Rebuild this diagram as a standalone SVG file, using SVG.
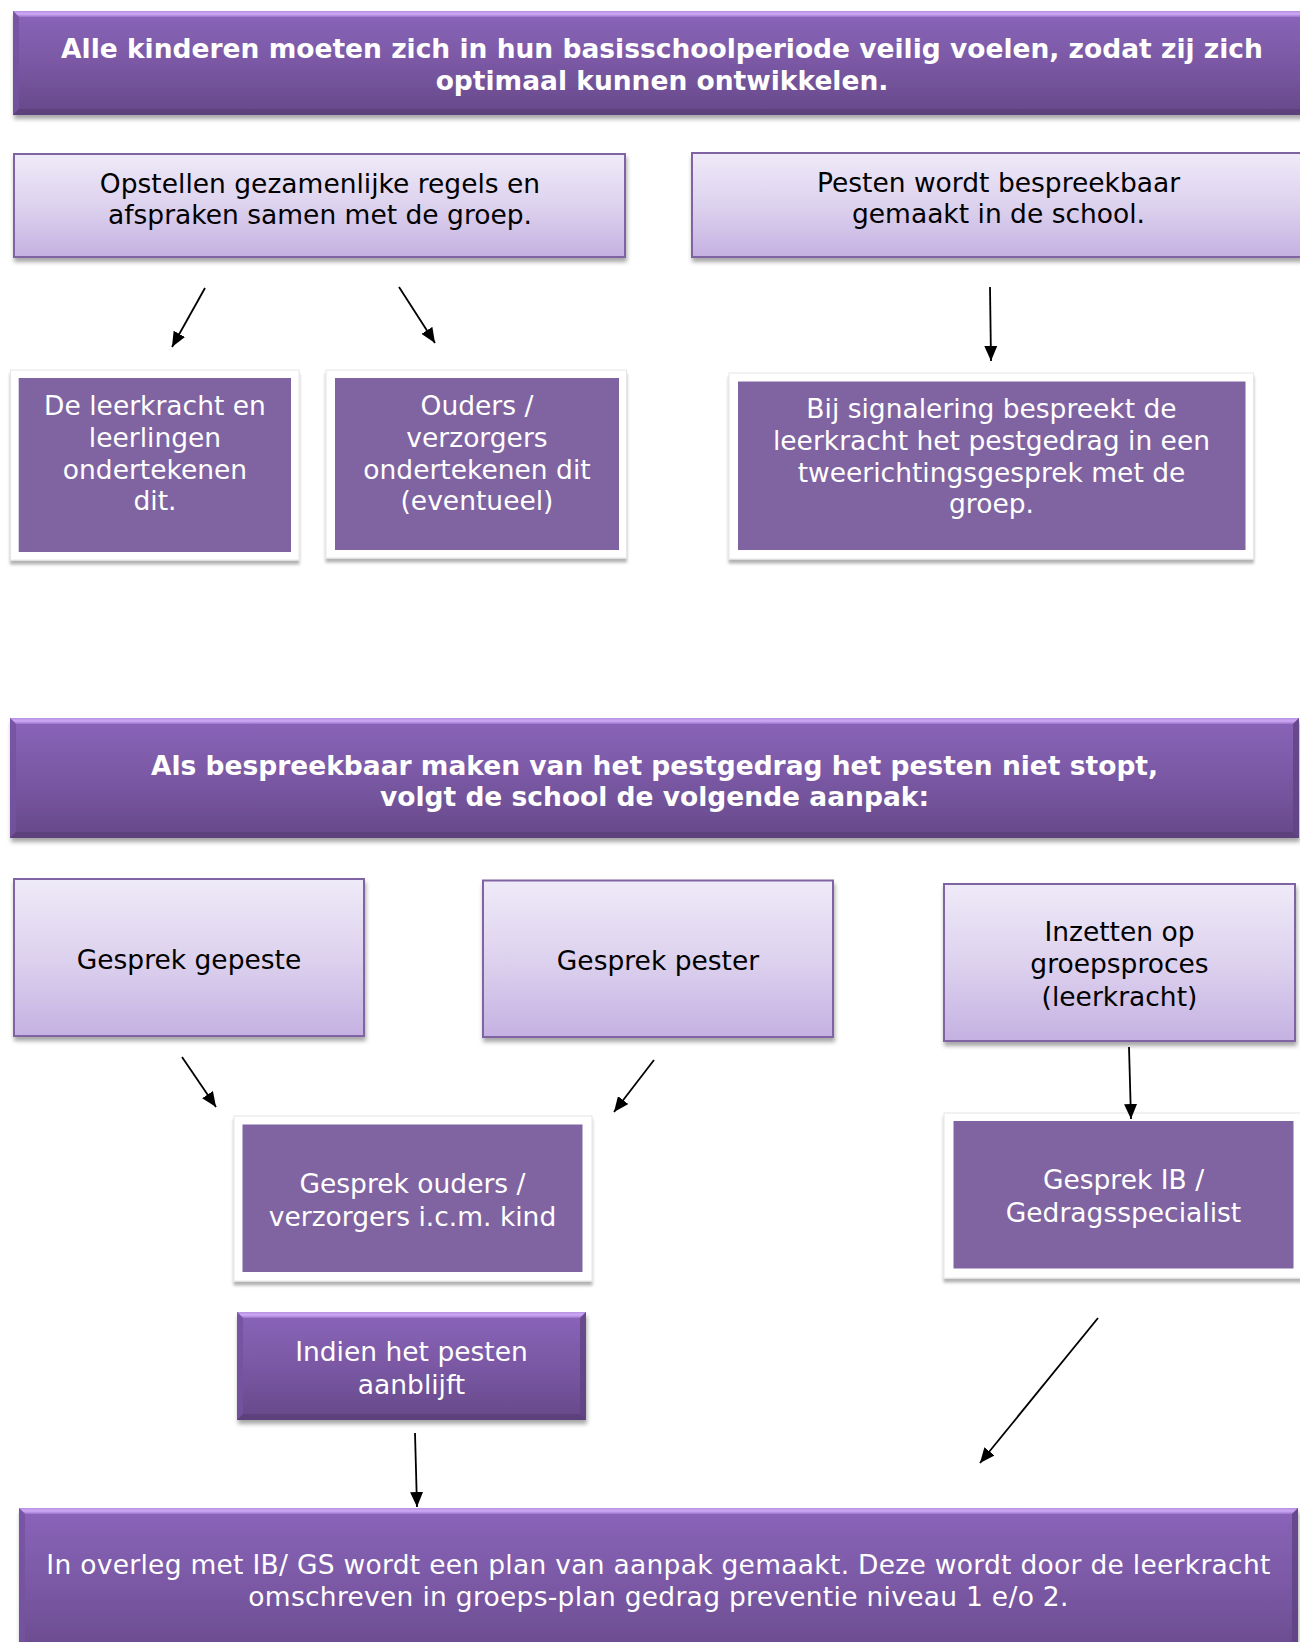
<svg xmlns="http://www.w3.org/2000/svg" width="1300" height="1642" viewBox="0 0 1300 1642">
<style>
  .tb { font-family: "DejaVu Sans", Verdana, sans-serif; font-size: 26.5px; font-weight: bold; fill: #ffffff; text-anchor: middle; }
  .tw { font-family: "DejaVu Sans", Verdana, sans-serif; font-size: 26.5px; fill: #ffffff; text-anchor: middle; }
  .tk { font-family: "DejaVu Sans", Verdana, sans-serif; font-size: 26.5px; fill: #000000; text-anchor: middle; }
  .wide { letter-spacing: 0.28px; }
  .light { fill: url(#lightGrad); stroke: #8064a2; stroke-width: 2; filter: url(#shadow); }
  .frame { fill: #ffffff; stroke: #e6e6e6; stroke-width: 1; filter: url(#shadowFrame); }
  .inner { fill: #8064a2; }
  .body { fill: url(#bannerGrad); filter: url(#shadow); }
  .bevTop { fill: url(#bevTopGrad); }
  .bevLeft { fill: #7452a0; opacity: 0.8; }
  .bevBottom { fill: #5a3f7a; opacity: 0.85; }
  .bevRight { fill: #5f4482; opacity: 0.8; }
  .conn { stroke: #000000; stroke-width: 1.8; fill: none; marker-end: url(#arrow); }
</style>
<defs>
  <linearGradient id="lightGrad" x1="0" y1="0" x2="0" y2="1">
    <stop offset="0" stop-color="#efeaf8"/>
    <stop offset="0.5" stop-color="#ddd2ee"/>
    <stop offset="1" stop-color="#c5b1e2"/>
  </linearGradient>
  <linearGradient id="bannerGrad" x1="0" y1="0" x2="0" y2="1">
    <stop offset="0" stop-color="#8a64b9"/>
    <stop offset="0.5" stop-color="#7a58a4"/>
    <stop offset="1" stop-color="#664989"/>
  </linearGradient>
  <linearGradient id="bevTopGrad" x1="0" y1="0" x2="0" y2="1">
    <stop offset="0" stop-color="#b690e2"/>
    <stop offset="0.5" stop-color="#cfa9f7"/>
    <stop offset="1" stop-color="#9b74cb"/>
  </linearGradient>
  <filter id="shadow" x="-5%" y="-10%" width="110%" height="130%">
    <feDropShadow dx="1" dy="4" stdDeviation="2" flood-color="#000000" flood-opacity="0.35"/>
  </filter>
  <filter id="shadowFrame" x="-5%" y="-10%" width="110%" height="130%">
    <feDropShadow dx="0" dy="4" stdDeviation="1.5" flood-color="#000000" flood-opacity="0.3"/>
  </filter>
  <marker id="arrow" viewBox="0 0 15 13" refX="15" refY="6.5" markerWidth="15" markerHeight="13" markerUnits="userSpaceOnUse" orient="auto">
    <path d="M0,0 L15,6.5 L0,13 z" fill="#000000"/>
  </marker>
</defs>

<g id="node-top-banner">
  <rect class="body" x="13" y="11" width="1300" height="104"/>
  <polygon class="bevTop" points="13,11 1313,11 1307,17 19,17"/>
  <polygon class="bevLeft" points="13,11 19,17 19,109 13,115"/>
  <polygon class="bevBottom" points="13,115 19,109 1307,109 1313,115"/>
  <text class="tb" x="662" y="57.5">Alle kinderen moeten zich in hun basisschoolperiode veilig voelen, zodat zij zich</text>
  <text class="tb" x="662" y="90">optimaal kunnen ontwikkelen.</text>
</g>

<g id="node-opstellen">
  <rect class="light" x="14" y="154" width="611" height="103"/>
  <text class="tk" x="320" y="192.5">Opstellen gezamenlijke regels en</text>
  <text class="tk" x="320" y="224">afspraken samen met de groep.</text>
</g>

<g id="node-pesten-bespreekbaar">
  <rect class="light" x="692" y="153" width="613" height="104"/>
  <text class="tk" x="998.5" y="191.5">Pesten wordt bespreekbaar</text>
  <text class="tk" x="998.5" y="223">gemaakt in de school.</text>
</g>

<g id="node-leerkracht-leerlingen">
  <rect class="frame" x="10.5" y="370" width="288.5" height="190"/>
  <rect class="inner" x="18.7" y="378" width="272.3" height="174"/>
  <text class="tw" x="155" y="415">De leerkracht en</text>
  <text class="tw" x="155" y="447">leerlingen</text>
  <text class="tw" x="155" y="478.5">ondertekenen</text>
  <text class="tw" x="155" y="510">dit.</text>
</g>

<g id="node-ouders">
  <rect class="frame" x="326" y="370" width="300.5" height="188"/>
  <rect class="inner" x="335" y="378" width="284" height="172"/>
  <text class="tw" x="477" y="415">Ouders /</text>
  <text class="tw" x="477" y="447">verzorgers</text>
  <text class="tw" x="477" y="478.5">ondertekenen dit</text>
  <text class="tw" x="477" y="510">(eventueel)</text>
</g>

<g id="node-signalering">
  <rect class="frame" x="729" y="373" width="524.5" height="186"/>
  <rect class="inner" x="738" y="381.5" width="507.5" height="168.5"/>
  <text class="tw" x="991.5" y="417.5">Bij signalering bespreekt de</text>
  <text class="tw" x="991.5" y="450">leerkracht het pestgedrag in een</text>
  <text class="tw" x="991.5" y="482">tweerichtingsgesprek met de</text>
  <text class="tw" x="991.5" y="513">groep.</text>
</g>

<g id="node-second-banner">
  <rect class="body" x="10" y="718" width="1289" height="120"/>
  <polygon class="bevTop" points="10,718 1299,718 1293,724 16,724"/>
  <polygon class="bevLeft" points="10,718 16,724 16,832 10,838"/>
  <polygon class="bevRight" points="1299,718 1293,724 1293,832 1299,838"/>
  <polygon class="bevBottom" points="10,838 16,832 1293,832 1299,838"/>
  <text class="tb" x="654.5" y="774.5">Als bespreekbaar maken van het pestgedrag het pesten niet stopt,</text>
  <text class="tb" x="654.5" y="806">volgt de school de volgende aanpak:</text>
</g>

<g id="node-gesprek-gepeste">
  <rect class="light" x="14" y="879" width="350" height="157"/>
  <text class="tk" x="189" y="968.5">Gesprek gepeste</text>
</g>

<g id="node-gesprek-pester">
  <rect class="light" x="483" y="880.5" width="350" height="156.5"/>
  <text class="tk" x="658" y="970">Gesprek pester</text>
</g>

<g id="node-groepsproces">
  <rect class="light" x="944" y="884" width="351" height="157"/>
  <text class="tk" x="1119.5" y="940.5">Inzetten op</text>
  <text class="tk" x="1119.5" y="973">groepsproces</text>
  <text class="tk" x="1119.5" y="1005.5">(leerkracht)</text>
</g>

<g id="node-gesprek-ouders">
  <rect class="frame" x="234" y="1116" width="358" height="165"/>
  <rect class="inner" x="242.5" y="1124.5" width="340" height="147.5"/>
  <text class="tw" x="412.5" y="1193">Gesprek ouders /</text>
  <text class="tw" x="412.5" y="1225.5">verzorgers i.c.m. kind</text>
</g>

<g id="node-gesprek-ib">
  <rect class="frame" x="944" y="1113" width="358" height="165"/>
  <rect class="inner" x="953.5" y="1121" width="340" height="147.5"/>
  <text class="tw" x="1123.5" y="1189">Gesprek IB /</text>
  <text class="tw" x="1123.5" y="1221.5">Gedragsspecialist</text>
</g>

<g id="node-indien">
  <rect class="body" x="237" y="1312" width="349" height="108"/>
  <polygon class="bevTop" points="237,1312 586,1312 580,1318 243,1318"/>
  <polygon class="bevLeft" points="237,1312 243,1318 243,1414 237,1420"/>
  <polygon class="bevRight" points="586,1312 580,1318 580,1414 586,1420"/>
  <polygon class="bevBottom" points="237,1420 243,1414 580,1414 586,1420"/>
  <text class="tw" x="411.5" y="1361">Indien het pesten</text>
  <text class="tw" x="411.5" y="1394">aanblijft</text>
</g>

<g id="node-plan-van-aanpak">
  <rect class="body" x="19" y="1508" width="1279" height="160"/>
  <polygon class="bevTop" points="19,1508 1298,1508 1292,1514 25,1514"/>
  <polygon class="bevLeft" points="19,1508 25,1514 25,1668 19,1668"/>
  <polygon class="bevRight" points="1298,1508 1292,1514 1292,1668 1298,1668"/>
  <text class="tw wide" x="658.5" y="1574">In overleg met IB/ GS wordt een plan van aanpak gemaakt. Deze wordt door de leerkracht</text>
  <text class="tw wide" x="658.5" y="1606">omschreven in groeps-plan gedrag preventie niveau 1 e/o 2.</text>
</g>

<g id="connectors">
  <line class="conn" x1="205" y1="288" x2="172" y2="347"/>
  <line class="conn" x1="399" y1="287" x2="435" y2="343"/>
  <line class="conn" x1="990" y1="287" x2="991" y2="361"/>
  <line class="conn" x1="182" y1="1057" x2="216" y2="1107"/>
  <line class="conn" x1="654" y1="1060" x2="614" y2="1112"/>
  <line class="conn" x1="1129" y1="1047" x2="1131" y2="1119"/>
  <line class="conn" x1="415" y1="1433" x2="417" y2="1507"/>
  <line class="conn" x1="1098" y1="1318" x2="980" y2="1463"/>
</g>
</svg>
